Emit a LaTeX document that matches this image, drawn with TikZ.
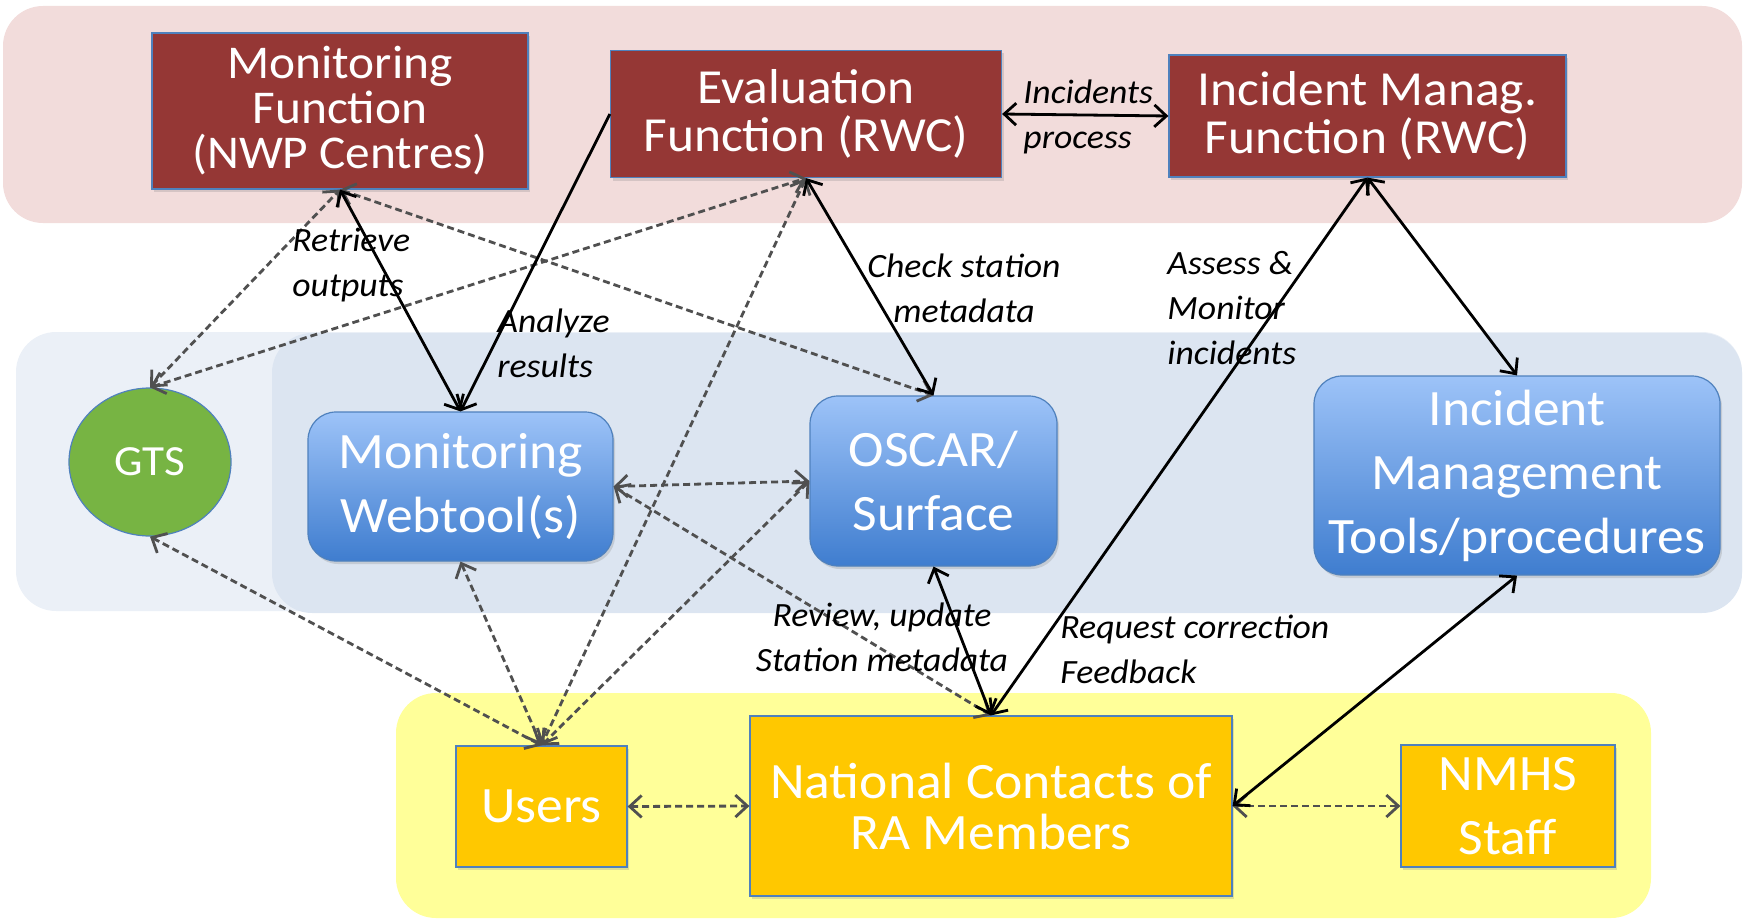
\documentclass[tikz,border=0pt]{standalone}
\usepackage{fontspec}
\setmainfont{Carlito}[FakeStretch=1.05]
\usetikzlibrary{arrows.meta,shapes.geometric,shadows}

\definecolor{bandpink}{HTML}{F2DCDB}
\definecolor{bandblueA}{HTML}{EBF0F7}
\definecolor{bandblueB}{HTML}{DCE5F1}
\definecolor{bandyellow}{HTML}{FFFF99}
\definecolor{darkred}{HTML}{953735}
\definecolor{edgeblue}{HTML}{4F81BD}
\definecolor{btop}{HTML}{9DC3F8}
\definecolor{bbot}{HTML}{3F7DCF}
\definecolor{gold}{HTML}{FFC800}
\definecolor{gtsgreen}{HTML}{77B443}
\definecolor{dgray}{HTML}{505050}

\tikzset{
  boxshadow/.style={drop shadow={opacity=0.25,shadow xshift=1pt,shadow yshift=-1.5pt}},
  redbox/.style={draw=edgeblue,line width=0.6pt,fill=darkred,text=white,align=center,inner sep=0pt,boxshadow},
  bluebox/.style={draw=edgeblue,line width=0.6pt,rounded corners=14pt,top color=btop,bottom color=bbot,text=white,align=center,inner sep=0pt,boxshadow,font=\fontsize{25.5}{32}\selectfont},
  goldbox/.style={draw=edgeblue,line width=0.6pt,fill=gold,text=white,align=center,inner sep=0pt,boxshadow,font=\fontsize{25.5}{32}\selectfont},
  lbl/.style={font=\itshape\fontsize{17}{22.5}\selectfont,inner sep=0pt,text=black},
  tipb/.tip={Straight Barb[length=6pt,width=11pt,line width=1.4pt]},
  solidarr/.style={draw=black,line width=1.4pt,tipb-tipb},
  dasharr/.style={draw=dgray,line width=1.4pt,dash pattern=on 3.5pt off 2pt,tipb-tipb},
}

\begin{document}
\begin{tikzpicture}[x=0.5pt,y=-0.5pt]
\useasboundingbox (0,0) rectangle (1748,920);
% background bands
\fill[bandpink,rounded corners=20pt] (3,6) rectangle (1742,223);
\fill[bandblueA,rounded corners=20pt] (16,332) rectangle (1742,611);
\fill[bandblueB,rounded corners=20pt] (272,333) rectangle (1742,613);
\fill[bandyellow,rounded corners=20pt] (396,693) rectangle (1651,918);

% nodes
\node[redbox,minimum width=188pt,minimum height=78pt,font=\fontsize{23.5}{22.5}\selectfont] (mon) at (340,111) {Monitoring\\Function\\(NWP Centres)};
\node[redbox,minimum width=195.5pt,minimum height=63.5pt,font=\fontsize{24.5}{24}\selectfont] (eval) at (806,114) {Evaluation\\Function (RWC)};
\node[redbox,minimum width=198.5pt,minimum height=61pt,font=\fontsize{24.5}{24}\selectfont] (incm) at (1367.5,116) {Incident Manag.\\Function (RWC)};
\node[ellipse,draw=edgeblue,line width=0.6pt,fill=gtsgreen,text=white,minimum width=81pt,minimum height=74pt,inner sep=0pt,font=\fontsize{21.5}{24}\selectfont] (gts) at (150,462) {GTS};
\node[bluebox,minimum width=152.5pt,minimum height=74.5pt] (web) at (460.5,486.5) {Monitoring\\Webtool(s)};
\node[bluebox,minimum width=123.5pt,minimum height=85pt] (oscar) at (933.5,481) {OSCAR/\\Surface};
\node[bluebox,minimum width=203pt,minimum height=99.5pt] (imt) at (1517,475.5) {Incident\\Management\\Tools/procedures};
\node[goldbox,minimum width=85.5pt,minimum height=60.5pt] (users) at (541.5,806.5) {Users};
\node[goldbox,minimum width=241pt,minimum height=90pt,font=\fontsize{25.5}{25.5}\selectfont] (nat) at (991,806) {National Contacts of\\RA Members};
\node[goldbox,minimum width=107pt,minimum height=61pt] (nmhs) at (1508,806) {NMHS\\Staff};

% dashed connectors
\draw[dasharr] (gts.north) -- (mon.south);
\draw[dasharr] (gts.north) -- (eval.south);
\draw[dasharr] (mon.south) -- (oscar.north);
\draw[dasharr] (web.east) -- (oscar.west);
\draw[dasharr] (web.east) -- (nat.north);
\draw[dasharr] (gts.south) -- (users.north);
\draw[dasharr] (web.south) -- (users.north);
\draw[dasharr] (eval.south) -- (users.north);
\draw[dasharr] (oscar.west) -- (users.north);
\draw[dasharr] (users.east) -- (nat.west);
\draw[dasharr] (nat.east) -- (nmhs.west);

% solid connectors
\draw[solidarr] (mon.south) -- (web.north);
\draw[draw=black,line width=1.4pt,-tipb] (eval.west) -- (web.north);
\draw[solidarr] (eval.south) -- (oscar.north);
\draw[solidarr] (eval.east) -- (incm.west);
\draw[solidarr] (incm.south) -- (nat.north);
\draw[solidarr] (incm.south) -- (imt.north);
\draw[solidarr] (oscar.south) -- (nat.north);
\draw[solidarr] (nat.east) -- (imt.south);

% labels
\node[lbl,anchor=west,align=left] (l1) at (292,265) {Retrieve\\outputs};
\node[lbl,anchor=west,align=left] (l2) at (497,343) {Analyze\\results};
\node[lbl,align=center] (l3) at (964,288) {Check station\\metadata};
\node[lbl,anchor=west,align=left] (l4) at (1023,117) {Incidents\\process};
\node[lbl,anchor=west,align=left] (l5) at (1167,308) {Assess \&\\Monitor\\incidents};
\node[lbl,align=center] (l6) at (882,637) {Review, update\\Station metadata};
\node[lbl,anchor=west,align=left] (l7) at (1060,649) {Request correction\\Feedback};
\end{tikzpicture}
\end{document}
